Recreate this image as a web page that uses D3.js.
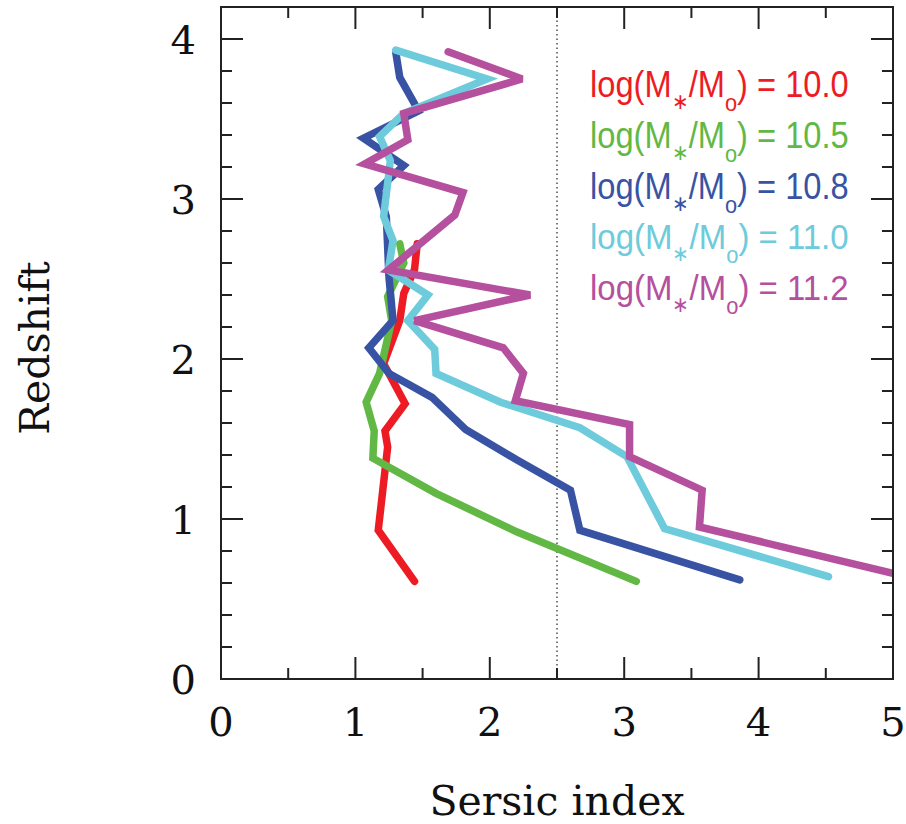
<!DOCTYPE html>
<html><head><meta charset="utf-8">
<script src="https://cdn.jsdelivr.net/npm/d3@7"></script>
<style>body{margin:0;background:#fff}svg{display:block}</style>
</head><body>
<svg id="c" width="906" height="824"></svg>
<script>
// ---- data ----
const seriesNames = ["10.0", "10.5", "10.8", "11.0", "11.2"];
const seriesColors = ["#ed1c24", "#62b844", "#3953a4", "#6dcbdb", "#b5509e"];
const n100 = [1.46, 1.44, 1.36, 1.33, 1.21, 1.37, 1.22, 1.24, 1.17, 1.44];
const z100 = [2.72, 2.56, 2.41, 2.24, 1.97, 1.72, 1.55, 1.45, 0.93, 0.61];
const n105 = [1.33, 1.36, 1.24, 1.27, 1.18, 1.08, 1.14, 1.13, 1.60, 2.20, 3.09];
const z105 = [2.72, 2.60, 2.39, 2.24, 1.91, 1.73, 1.55, 1.38, 1.16, 0.92, 0.61];
const n108 = [1.30, 1.33, 1.47, 1.06, 1.36, 1.17, 1.23, 1.25, 1.28, 1.10, 1.25, 1.57, 1.82, 2.20, 2.60, 2.67, 3.86];
const z108 = [3.92, 3.76, 3.55, 3.38, 3.21, 3.06, 2.89, 2.51, 2.24, 2.07, 1.91, 1.76, 1.56, 1.37, 1.18, 0.93, 0.62];
const n110 = [1.30, 1.98, 1.36, 1.18, 1.26, 1.21, 1.28, 1.245, 1.54, 1.39, 1.59, 1.60, 2.08, 2.67, 3.02, 3.30, 4.52];
const z110 = [3.93, 3.75, 3.535, 3.39, 3.24, 2.89, 2.74, 2.556, 2.40, 2.24, 2.06, 1.91, 1.73, 1.57, 1.39, 0.94, 0.64];
const n112 = [1.69, 2.24, 1.36, 1.39, 1.07, 1.80, 1.74, 1.245, 2.30, 1.44, 2.10, 2.25, 2.19, 3.04, 3.04, 3.58, 3.56, 5.0];
const z112 = [3.92, 3.75, 3.535, 3.37, 3.22, 3.04, 2.90, 2.556, 2.40, 2.24, 2.07, 1.91, 1.74, 1.59, 1.39, 1.18, 0.95, 0.66];
const xTicks = [0, 1, 2, 3, 4, 5];
const yTicks = [0, 1, 2, 3, 4];
const xLabel = "Sersic index";
const yLabel = "Redshift";
const refN = 2.5;

const seriesN = [n100, n105, n108, n110, n112];
const seriesZ = [z100, z105, z108, z110, z112];

// ---- layout ----
const svg = d3.select("#c");
const L = 221, R = 893, B = 679;
const x = d3.scaleLinear().domain([0, 5]).range([L, R]);
const y = d3.scaleLinear().domain([0, 4]).range([B, 39]);
const T = y(4.2);
const axisColor = "#222";
const serif = "'DejaVu Serif', serif";

svg.append("defs").append("clipPath").attr("id", "clip")
  .append("rect").attr("x", L).attr("y", T).attr("width", R - L).attr("height", B - T);

// dotted reference line
svg.append("line").attr("x1", x(refN)).attr("x2", x(refN)).attr("y1", B).attr("y2", T)
  .attr("stroke", "#333").attr("stroke-width", 1.3).attr("stroke-dasharray", "1.5,3");

// series lines
const line = d3.line().x(d => x(d[0])).y(d => y(d[1]));
const g = svg.append("g").attr("clip-path", "url(#clip)");
seriesN.forEach((ns, i) => {
  const pts = ns.map((v, k) => [v, seriesZ[i][k]]);
  g.append("path").attr("d", line(pts)).attr("fill", "none")
    .attr("stroke", seriesColors[i]).attr("stroke-width", 7.5)
    .attr("stroke-linejoin", "miter").attr("stroke-miterlimit", 3).attr("stroke-linecap", "round");
});

// frame
const frame = svg.append("g").attr("stroke", axisColor).attr("stroke-width", 2).attr("fill", "none");
frame.append("rect").attr("x", L).attr("y", T).attr("width", R - L).attr("height", B - T);

// ticks
d3.range(0, 4.01, 0.2).forEach(v => {
  const major = Math.abs(v - Math.round(v)) < 1e-6;
  const len = major ? 22 : 11;
  frame.append("line").attr("x1", L).attr("x2", L + len).attr("y1", y(v)).attr("y2", y(v));
  frame.append("line").attr("x1", R).attr("x2", R - len).attr("y1", y(v)).attr("y2", y(v));
});
d3.range(0, 5.01, 0.5).forEach(v => {
  const major = Math.abs(v - Math.round(v)) < 1e-6;
  const len = major ? 22 : 11;
  frame.append("line").attr("x1", x(v)).attr("x2", x(v)).attr("y1", B).attr("y2", B - len);
  frame.append("line").attr("x1", x(v)).attr("x2", x(v)).attr("y1", T).attr("y2", T + len);
});

// tick labels
svg.append("g").selectAll("text").data(xTicks).join("text")
  .attr("x", d => x(d)).attr("y", 736).attr("text-anchor", "middle")
  .attr("font-family", serif).attr("font-size", 40).attr("fill", "#111").text(d => d);
svg.append("g").selectAll("text").data(yTicks).join("text")
  .attr("x", 196).attr("y", d => y(d) + 15).attr("text-anchor", "end")
  .attr("font-family", serif).attr("font-size", 40).attr("fill", "#111").text(d => d);

// axis titles
svg.append("text").attr("x", x(2.5)).attr("y", 815).attr("text-anchor", "middle")
  .attr("font-family", serif).attr("font-size", 41).attr("fill", "#111").text(xLabel);
svg.append("text").attr("transform", `translate(49,${348}) rotate(-90)`).attr("text-anchor", "middle")
  .attr("font-family", serif).attr("font-size", 41).attr("fill", "#111").text(yLabel);

// legend
const legX = 590, legW = 258;
seriesNames.forEach((name, i) => {
  const baseY = 97 + i * 50.8;
  const t = svg.append("text").attr("x", 0).attr("y", 0)
    .attr("font-family", "'Liberation Sans Narrow', 'Liberation Sans', Arial, sans-serif")
    .attr("font-size", 36).attr("fill", seriesColors[i]);
  t.append("tspan").text("log(M");
  t.append("tspan").attr("font-size", 22).attr("dy", 12).text("\u2217");
  t.append("tspan").attr("dy", -12).text("/M");
  t.append("tspan").attr("font-size", 24).attr("dy", 14).text("o");
  t.append("tspan").attr("dy", -14).text(") = " + name);
  const w = t.node().getComputedTextLength();
  t.attr("transform", `translate(${legX},${baseY}) scale(${legW / w},1)`);
});
</script>
</body></html>
